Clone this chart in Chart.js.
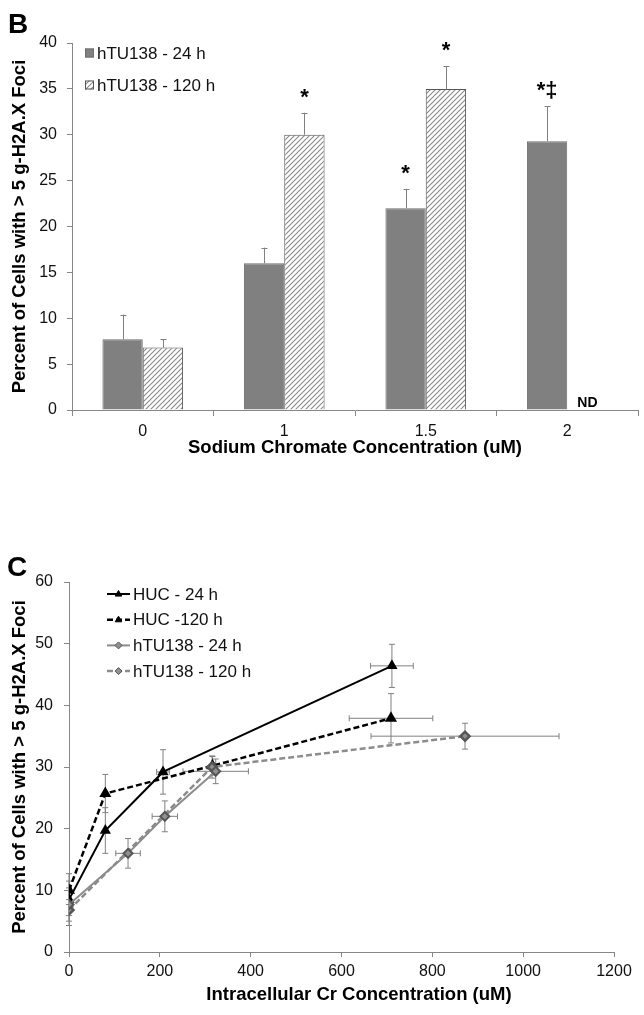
<!DOCTYPE html>
<html>
<head>
<meta charset="utf-8">
<script src="https://cdn.jsdelivr.net/npm/chart.js@4.4.1/dist/chart.umd.min.js"></script>
<style>
  body { margin: 0; background: #fff; }
  .panel { position: absolute; left: 0; width: 644px; }
  #wrapB { top: 0; height: 470px; }
  #wrapC { top: 500px; height: 515px; }
</style>
</head>
<body>
<div class="panel" id="wrapB"><canvas id="chartB" width="644" height="470"></canvas></div>
<div class="panel" id="wrapC"><canvas id="chartC" width="644" height="515"></canvas></div>
<script>
// ---- Panel B: % cells with >5 foci vs sodium chromate (bar chart) ----
const concLabels = ['0', '1', '1.5', '2'];
const foci24 = [7.7, 16.0, 22.0, 29.3];
const foci24Err = [2.7, 1.7, 2.1, 3.8];
const foci120 = [6.8, 30.0, 35.0, null];
const foci120Err = [0.9, 2.4, 2.5, null];
const marks24 = ['', '', '*', '*‡'];
const marks120 = ['', '*', '*', 'ND'];
const yTicksB = [0, 5, 10, 15, 20, 25, 30, 35, 40];

// ---- Panel C: % cells vs intracellular Cr (scatter with lines) ----
const hucX24 = [0, 80, 207, 711];
const hucY24 = [8.5, 19.7, 29.2, 46.4];
const hucXErr24 = [0, 0, 14, 47];
const hucYErr24 = [4.2, 3.7, 3.6, 3.5];

const hucX120 = [0, 80, 316, 709];
const hucY120 = [10.0, 25.7, 30.2, 37.9];
const hucXErr120 = [0, 0, 0, 92];
const hucYErr120 = [1.5, 3.1, 1.5, 4.0];

const htuX24 = [0, 130, 211, 323];
const htuY24 = [7.7, 16.0, 22.0, 29.3];
const htuXErr24 = [0, 27, 28, 72];
const htuYErr24 = [2.7, 2.4, 2.5, 2.0];

const htuX120 = [0, 315, 872];
const htuY120 = [6.8, 30.0, 35.0];
const htuXErr120 = [0, 0, 207];
const htuYErr120 = [0.9, 1.8, 2.1];

const xTicksC = [0, 200, 400, 600, 800, 1000, 1200];
const yTicksC = [0, 10, 20, 30, 40, 50, 60];

const FONT = "'Liberation Sans', Arial, sans-serif";
const AXIS_GREY = '#878787';
const ERR_GREY = '#808080';
const TEXT = '#111';
const YTITLE = 'Percent of Cells with > 5 g-H2A.X Foci';

Chart.defaults.font.family = FONT;
Chart.defaults.color = TEXT;

function toPoints(xs, ys) {
    return xs.map((x, i) => ({ x: x, y: ys[i] }));
}

function makeHatch(ctx) {
    const c = document.createElement('canvas');
    c.width = 5; c.height = 5;
    const g = c.getContext('2d');
    g.fillStyle = '#fff';
    g.fillRect(0, 0, 5, 5);
    g.strokeStyle = '#8a8a8a';
    g.lineWidth = 1.1;
    g.beginPath();
    g.moveTo(0, 5); g.lineTo(5, 0);
    g.moveTo(-1, 1); g.lineTo(1, -1);
    g.moveTo(4, 6); g.lineTo(6, 4);
    g.stroke();
    return ctx.createPattern(c, 'repeat');
}

// panel letter (B / C)
const panelLetter = {
    id: 'panelLetter',
    afterDraw(chart, args, opts) {
        const ctx = chart.ctx;
        ctx.save();
        ctx.font = 'bold 28px ' + FONT;
        ctx.fillStyle = '#000';
        ctx.textBaseline = 'alphabetic';
        ctx.fillText(opts.text, opts.x, opts.y);
        ctx.restore();
    }
};

function axisStyle(tickLen) {
    return {
        grid: { display: true, drawOnChartArea: false, drawTicks: true, tickLength: tickLen, color: AXIS_GREY, lineWidth: 1 },
        border: { display: true, color: AXIS_GREY, width: 1 }
    };
}

// ---------------- Panel B ----------------
const ctxB = document.getElementById('chartB').getContext('2d');
const hatch = makeHatch(ctxB);

const barExtras = {
    id: 'barExtras',
    afterDatasetsDraw(chart) {
        const ctx = chart.ctx;
        const yScale = chart.scales.y;
        const xScale = chart.scales.x;
        ctx.save();
        chart.data.datasets.forEach((ds, i) => {
            const meta = chart.getDatasetMeta(i);
            meta.data.forEach((bar, j) => {
                const v = ds.data[j];
                const e = ds.errors[j];
                let x = bar.x;
                if (!isFinite(x)) x = xScale.getPixelForValue(j) + (i === 0 ? -20 : 20);
                let top = yScale.getPixelForValue(0);
                if (v != null && e) {
                    const yTop = yScale.getPixelForValue(v + e);
                    const xr = Math.round(x) + 0.5;
                    ctx.strokeStyle = ERR_GREY;
                    ctx.lineWidth = 1;
                    ctx.beginPath();
                    ctx.moveTo(xr, bar.y);
                    ctx.lineTo(xr, yTop);
                    ctx.moveTo(xr - 3, Math.round(yTop) + 0.5);
                    ctx.lineTo(xr + 3, Math.round(yTop) + 0.5);
                    ctx.stroke();
                    top = yTop;
                }
                const mark = ds.marks[j];
                if (mark === 'ND') {
                    ctx.font = "bold 14px 'Liberation Sans Narrow', " + FONT;
                    ctx.fillStyle = '#000';
                    ctx.textAlign = 'center';
                    ctx.textBaseline = 'alphabetic';
                    ctx.fillText(mark, x, yScale.getPixelForValue(0) - 3);
                } else if (mark) {
                    ctx.font = 'bold 22px ' + FONT;
                    ctx.fillStyle = '#000';
                    ctx.textAlign = 'center';
                    ctx.textBaseline = 'alphabetic';
                    ctx.fillText(mark, x, top - 9);
                }
            });
        });
        ctx.restore();
    }
};

const legendB = {
    id: 'legendB',
    afterDraw(chart) {
        const ctx = chart.ctx;
        ctx.save();
        ctx.font = '17px ' + FONT;
        ctx.textBaseline = 'middle';
        ctx.fillStyle = TEXT;
        chart.data.datasets.forEach((ds, i) => {
            const y = 53 + i * 32;
            ctx.fillStyle = ds.backgroundColor;
            ctx.fillRect(85, y - 4.5, 9, 9);
            ctx.strokeStyle = ds.borderColor;
            ctx.lineWidth = 1;
            ctx.strokeRect(85.5, y - 4, 8, 8);
            ctx.fillStyle = TEXT;
            ctx.fillText(ds.label, 97, y + 1);
        });
        ctx.restore();
    }
};

new Chart(ctxB, {
    type: 'bar',
    data: {
        labels: concLabels,
        datasets: [
            {
                label: 'hTU138 - 24 h',
                data: foci24,
                errors: foci24Err,
                marks: marks24,
                backgroundColor: '#808080',
                borderColor: '#6e6e6e',
                borderWidth: 1,
                categoryPercentage: 0.57,
                barPercentage: 1.0
            },
            {
                label: 'hTU138 - 120 h',
                data: foci120,
                errors: foci120Err,
                marks: marks120,
                backgroundColor: hatch,
                borderColor: '#555',
                borderWidth: 1,
                categoryPercentage: 0.57,
                barPercentage: 1.0
            }
        ]
    },
    options: {
        responsive: false,
        animation: false,
        layout: { padding: { top: 43, right: 6, left: 0, bottom: 0 } },
        plugins: {
            legend: { display: false },
            tooltip: { enabled: false },
            panelLetter: { text: 'B', x: 8, y: 33 }
        },
        scales: {
            x: {
                ...axisStyle(6),
                grid: { display: true, drawOnChartArea: false, drawTicks: true, tickLength: 6, color: AXIS_GREY, offset: true },
                ticks: { font: { size: 16 }, color: TEXT, padding: 6, maxRotation: 0 },
                title: {
                    display: true,
                    text: 'Sodium Chromate Concentration (uM)',
                    font: { size: 18.5, weight: 'bold' },
                    color: '#000',
                    padding: { top: 0, bottom: 11 }
                },
                afterFit(s) { s.height = 60; }
            },
            y: {
                ...axisStyle(5),
                min: 0,
                max: 40,
                afterBuildTicks(s) { s.ticks = yTicksB.map(v => ({ value: v })); },
                ticks: { font: { size: 16 }, color: TEXT, padding: 10 },
                title: {
                    display: true,
                    text: YTITLE,
                    font: { size: 18.5, weight: 'bold' },
                    color: '#000',
                    padding: { top: 9, bottom: 0 }
                },
                afterFit(s) { s.width = 72; }
            }
        }
    },
    plugins: [barExtras, legendB, panelLetter]
});

// ---------------- Panel C ----------------
const ctxC = document.getElementById('chartC').getContext('2d');

function drawMarker(ctx, style, x, y, r, fill, stroke) {
    ctx.beginPath();
    if (style === 'triangle') {
        ctx.moveTo(x, y - r);
        ctx.lineTo(x + r * 0.95, y + r * 0.6);
        ctx.lineTo(x - r * 0.95, y + r * 0.6);
    } else {
        ctx.moveTo(x, y - r);
        ctx.lineTo(x + r, y);
        ctx.lineTo(x, y + r);
        ctx.lineTo(x - r, y);
    }
    ctx.closePath();
    ctx.fillStyle = fill;
    ctx.fill();
    ctx.strokeStyle = stroke;
    ctx.lineWidth = 1;
    ctx.stroke();
}

const errorBarsC = {
    id: 'errorBarsC',
    beforeDatasetsDraw(chart) {
        const ctx = chart.ctx;
        const xs = chart.scales.x, ys = chart.scales.y;
        ctx.save();
        ctx.strokeStyle = ERR_GREY;
        ctx.lineWidth = 1;
        chart.data.datasets.forEach(ds => {
            ds.data.forEach((p, j) => {
                const px = xs.getPixelForValue(p.x);
                const py = ys.getPixelForValue(p.y);
                const ey = ds.yErr[j], ex = ds.xErr[j];
                ctx.beginPath();
                if (ey) {
                    const y1 = ys.getPixelForValue(p.y + ey);
                    const y2 = ys.getPixelForValue(p.y - ey);
                    ctx.moveTo(px, y1); ctx.lineTo(px, y2);
                    ctx.moveTo(px - 3, y1); ctx.lineTo(px + 3, y1);
                    ctx.moveTo(px - 3, y2); ctx.lineTo(px + 3, y2);
                }
                if (ex) {
                    const x1 = xs.getPixelForValue(p.x - ex);
                    const x2 = xs.getPixelForValue(p.x + ex);
                    ctx.moveTo(x1, py); ctx.lineTo(x2, py);
                    ctx.moveTo(x1, py - 3); ctx.lineTo(x1, py + 3);
                    ctx.moveTo(x2, py - 3); ctx.lineTo(x2, py + 3);
                }
                ctx.stroke();
            });
        });
        ctx.restore();
    }
};

const legendC = {
    id: 'legendC',
    afterDraw(chart) {
        const ctx = chart.ctx;
        ctx.save();
        ctx.font = '17px ' + FONT;
        ctx.textBaseline = 'middle';
        chart.data.datasets.forEach((ds, i) => {
            const y = 94 + i * 25.7;
            ctx.strokeStyle = ds.borderColor;
            ctx.lineWidth = ds.borderWidth;
            ctx.setLineDash(ds.borderDash || []);
            ctx.beginPath();
            ctx.moveTo(107, y);
            ctx.lineTo(130, y);
            ctx.stroke();
            ctx.setLineDash([]);
            drawMarker(ctx, ds.pointStyle, 118.5, y, 3.5, ds.pointBackgroundColor, ds.pointBorderColor);
            ctx.fillStyle = TEXT;
            ctx.fillText(ds.label, 133, y + 1);
        });
        // x-axis title sits a bit right of the plot centre in the original
        ctx.font = 'bold 18.5px ' + FONT;
        ctx.fillStyle = '#000';
        ctx.textAlign = 'center';
        ctx.fillText('Intracellular Cr Concentration (uM)', 359, chart.height - 20);
        ctx.restore();
    }
};

new Chart(ctxC, {
    type: 'scatter',
    data: {
        datasets: [
            {
                label: 'HUC - 24 h',
                data: toPoints(hucX24, hucY24),
                xErr: hucXErr24, yErr: hucYErr24,
                showLine: true,
                borderColor: '#000',
                borderWidth: 2,
                pointStyle: 'triangle',
                pointRadius: 4.5,
                pointBackgroundColor: '#000',
                pointBorderColor: '#000',
                order: 2
            },
            {
                label: 'HUC -120 h',
                data: toPoints(hucX120, hucY120),
                xErr: hucXErr120, yErr: hucYErr120,
                showLine: true,
                borderColor: '#000',
                borderWidth: 2.5,
                borderDash: [6, 3],
                pointStyle: 'triangle',
                pointRadius: 4.5,
                pointBackgroundColor: '#000',
                pointBorderColor: '#000',
                order: 3
            },
            {
                label: 'hTU138 - 24 h',
                data: toPoints(htuX24, htuY24),
                xErr: htuXErr24, yErr: htuYErr24,
                showLine: true,
                borderColor: '#8c8c8c',
                borderWidth: 2,
                pointStyle: 'rectRot',
                pointRadius: 4.5,
                pointBackgroundColor: '#8f8f8f',
                pointBorderColor: '#555',
                order: 0
            },
            {
                label: 'hTU138 - 120 h',
                data: toPoints(htuX120, htuY120),
                xErr: htuXErr120, yErr: htuYErr120,
                showLine: true,
                borderColor: '#8c8c8c',
                borderWidth: 2.5,
                borderDash: [6, 3],
                pointStyle: 'rectRot',
                pointRadius: 4.5,
                pointBackgroundColor: '#8f8f8f',
                pointBorderColor: '#555',
                order: 1
            }
        ]
    },
    options: {
        responsive: false,
        animation: false,
        layout: { padding: { top: 82, right: 30, left: 0, bottom: 0 } },
        plugins: {
            legend: { display: false },
            tooltip: { enabled: false },
            panelLetter: { text: 'C', x: 7, y: 76 }
        },
        scales: {
            x: {
                ...axisStyle(5),
                type: 'linear',
                min: 0,
                max: 1200,
                afterBuildTicks(s) { s.ticks = xTicksC.map(v => ({ value: v })); },
                ticks: { font: { size: 16 }, color: TEXT, padding: 5, maxRotation: 0, callback: v => String(v) },
                title: { display: false },
                afterFit(s) { s.height = 63; }
            },
            y: {
                ...axisStyle(5),
                min: 0,
                max: 60,
                afterBuildTicks(s) { s.ticks = yTicksC.map(v => ({ value: v })); },
                ticks: { font: { size: 16 }, color: TEXT, padding: 11 },
                title: {
                    display: true,
                    text: YTITLE,
                    font: { size: 18.5, weight: 'bold' },
                    color: '#000',
                    padding: { top: 9, bottom: 0 }
                },
                afterFit(s) { s.width = 69; }
            }
        }
    },
    plugins: [errorBarsC, legendC, panelLetter]
});
</script>
</body>
</html>
